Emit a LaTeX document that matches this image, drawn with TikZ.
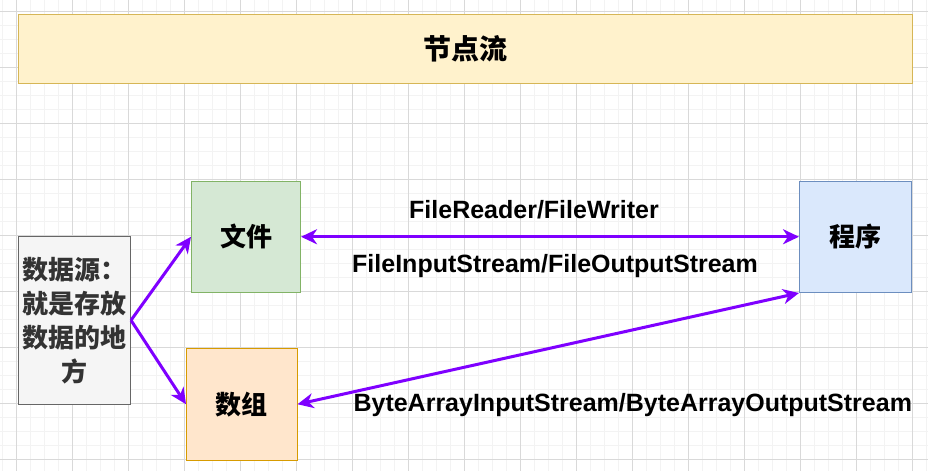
\documentclass[tikz,border=0pt]{standalone}
\usepackage{fontspec}
\setmainfont{Liberation Sans}
\newfontfamily\cjk{Noto Sans CJK SC}
\usetikzlibrary{arrows.meta}
\definecolor{arrc}{HTML}{7F00FF}
\definecolor{gridminor}{HTML}{F3F3F3}
\definecolor{gridmajor}{HTML}{D9D9D9}
\definecolor{titlefill}{HTML}{FFF2CC}
\definecolor{titledraw}{HTML}{D6B656}
\definecolor{greenfill}{HTML}{D5E8D4}
\definecolor{greendraw}{HTML}{82B366}
\definecolor{orangefill}{HTML}{FFE6CC}
\definecolor{orangedraw}{HTML}{D79B00}
\definecolor{bluefill}{HTML}{DAE8FC}
\definecolor{bluedraw}{HTML}{6C8EBF}
\definecolor{greyfill}{HTML}{F5F5F5}
\definecolor{greydraw}{HTML}{666666}
\definecolor{greytext}{HTML}{333333}
\begin{document}
\begin{tikzpicture}[x=1pt,y=-1pt,
  box/.style={draw, line width=1pt, inner sep=0pt, align=center},
  cjktext/.style={font=\cjk\bfseries\fontsize{26}{34}\selectfont},
  lbl/.style={font=\bfseries\fontsize{25}{28}\selectfont, inner sep=0pt},
  tip/.style={Stealth[length=16pt,width=15pt,inset=5pt]},
  conn/.style={draw=arrc, line width=3pt, -{Stealth[length=16pt,width=15pt,inset=5pt]}},
  bconn/.style={draw=arrc, line width=3pt, {Stealth[length=16pt,width=15pt,inset=5pt]}-{Stealth[length=16pt,width=15pt,inset=5pt]}}
]
\useasboundingbox (0,0) rectangle (928,471);
\fill[white] (0,0) rectangle (928,471);
% grid
\foreach \i in {0,...,66} \draw[gridminor, line width=1pt] (2.5+14*\i,0) -- (2.5+14*\i,471);
\foreach \i in {0,...,33} \draw[gridminor, line width=1pt] (0,11.5+14*\i) -- (928,11.5+14*\i);
\foreach \i in {0,...,16} \draw[gridmajor, line width=1pt] (16.5+56*\i,0) -- (16.5+56*\i,471);
\foreach \i in {0,...,8} \draw[gridmajor, line width=1pt] (0,11.5+56*\i) -- (928,11.5+56*\i);

% nodes
\node[box, draw=titledraw, fill=titlefill, minimum width=894pt, minimum height=69pt, cjktext, font=\cjk\bfseries\fontsize{28}{34}\selectfont] (title) at (465,48.5) {节点流};
\node[box, draw=greydraw, fill=greyfill, minimum width=112pt, minimum height=167.5pt, cjktext, text=greytext] (src) at (74.5,320.25) {数据源：\\就是存放\\数据的地\\方};
\node[box, draw=greendraw, fill=greenfill, minimum width=109pt, minimum height=111.5pt, cjktext] (file) at (246,236.75) {文件};
\node[box, draw=orangedraw, fill=orangefill, minimum width=110.5pt, minimum height=111.5pt, cjktext] (arr) at (241.75,404.25) {数组};
\node[box, draw=bluedraw, fill=bluefill, minimum width=112pt, minimum height=111.5pt, cjktext] (prog) at (855.5,236.75) {程序};

% connectors
\draw[conn] (src.east) -- (file.west);
\draw[conn] (src.east) -- (arr.west);
\draw[bconn] (file.east) -- (prog.west);
\draw[bconn] (arr.east) -- (prog.south west);

% labels
\node[lbl] (l1) at (534,210) {FileReader/FileWriter};
\node[lbl] (l2) at (555,266) {FileInputStream/FileOutputStream};
\node[lbl] (l3) at (632.8,405) {ByteArrayInputStream/ByteArrayOutputStream};
\end{tikzpicture}
\end{document}
